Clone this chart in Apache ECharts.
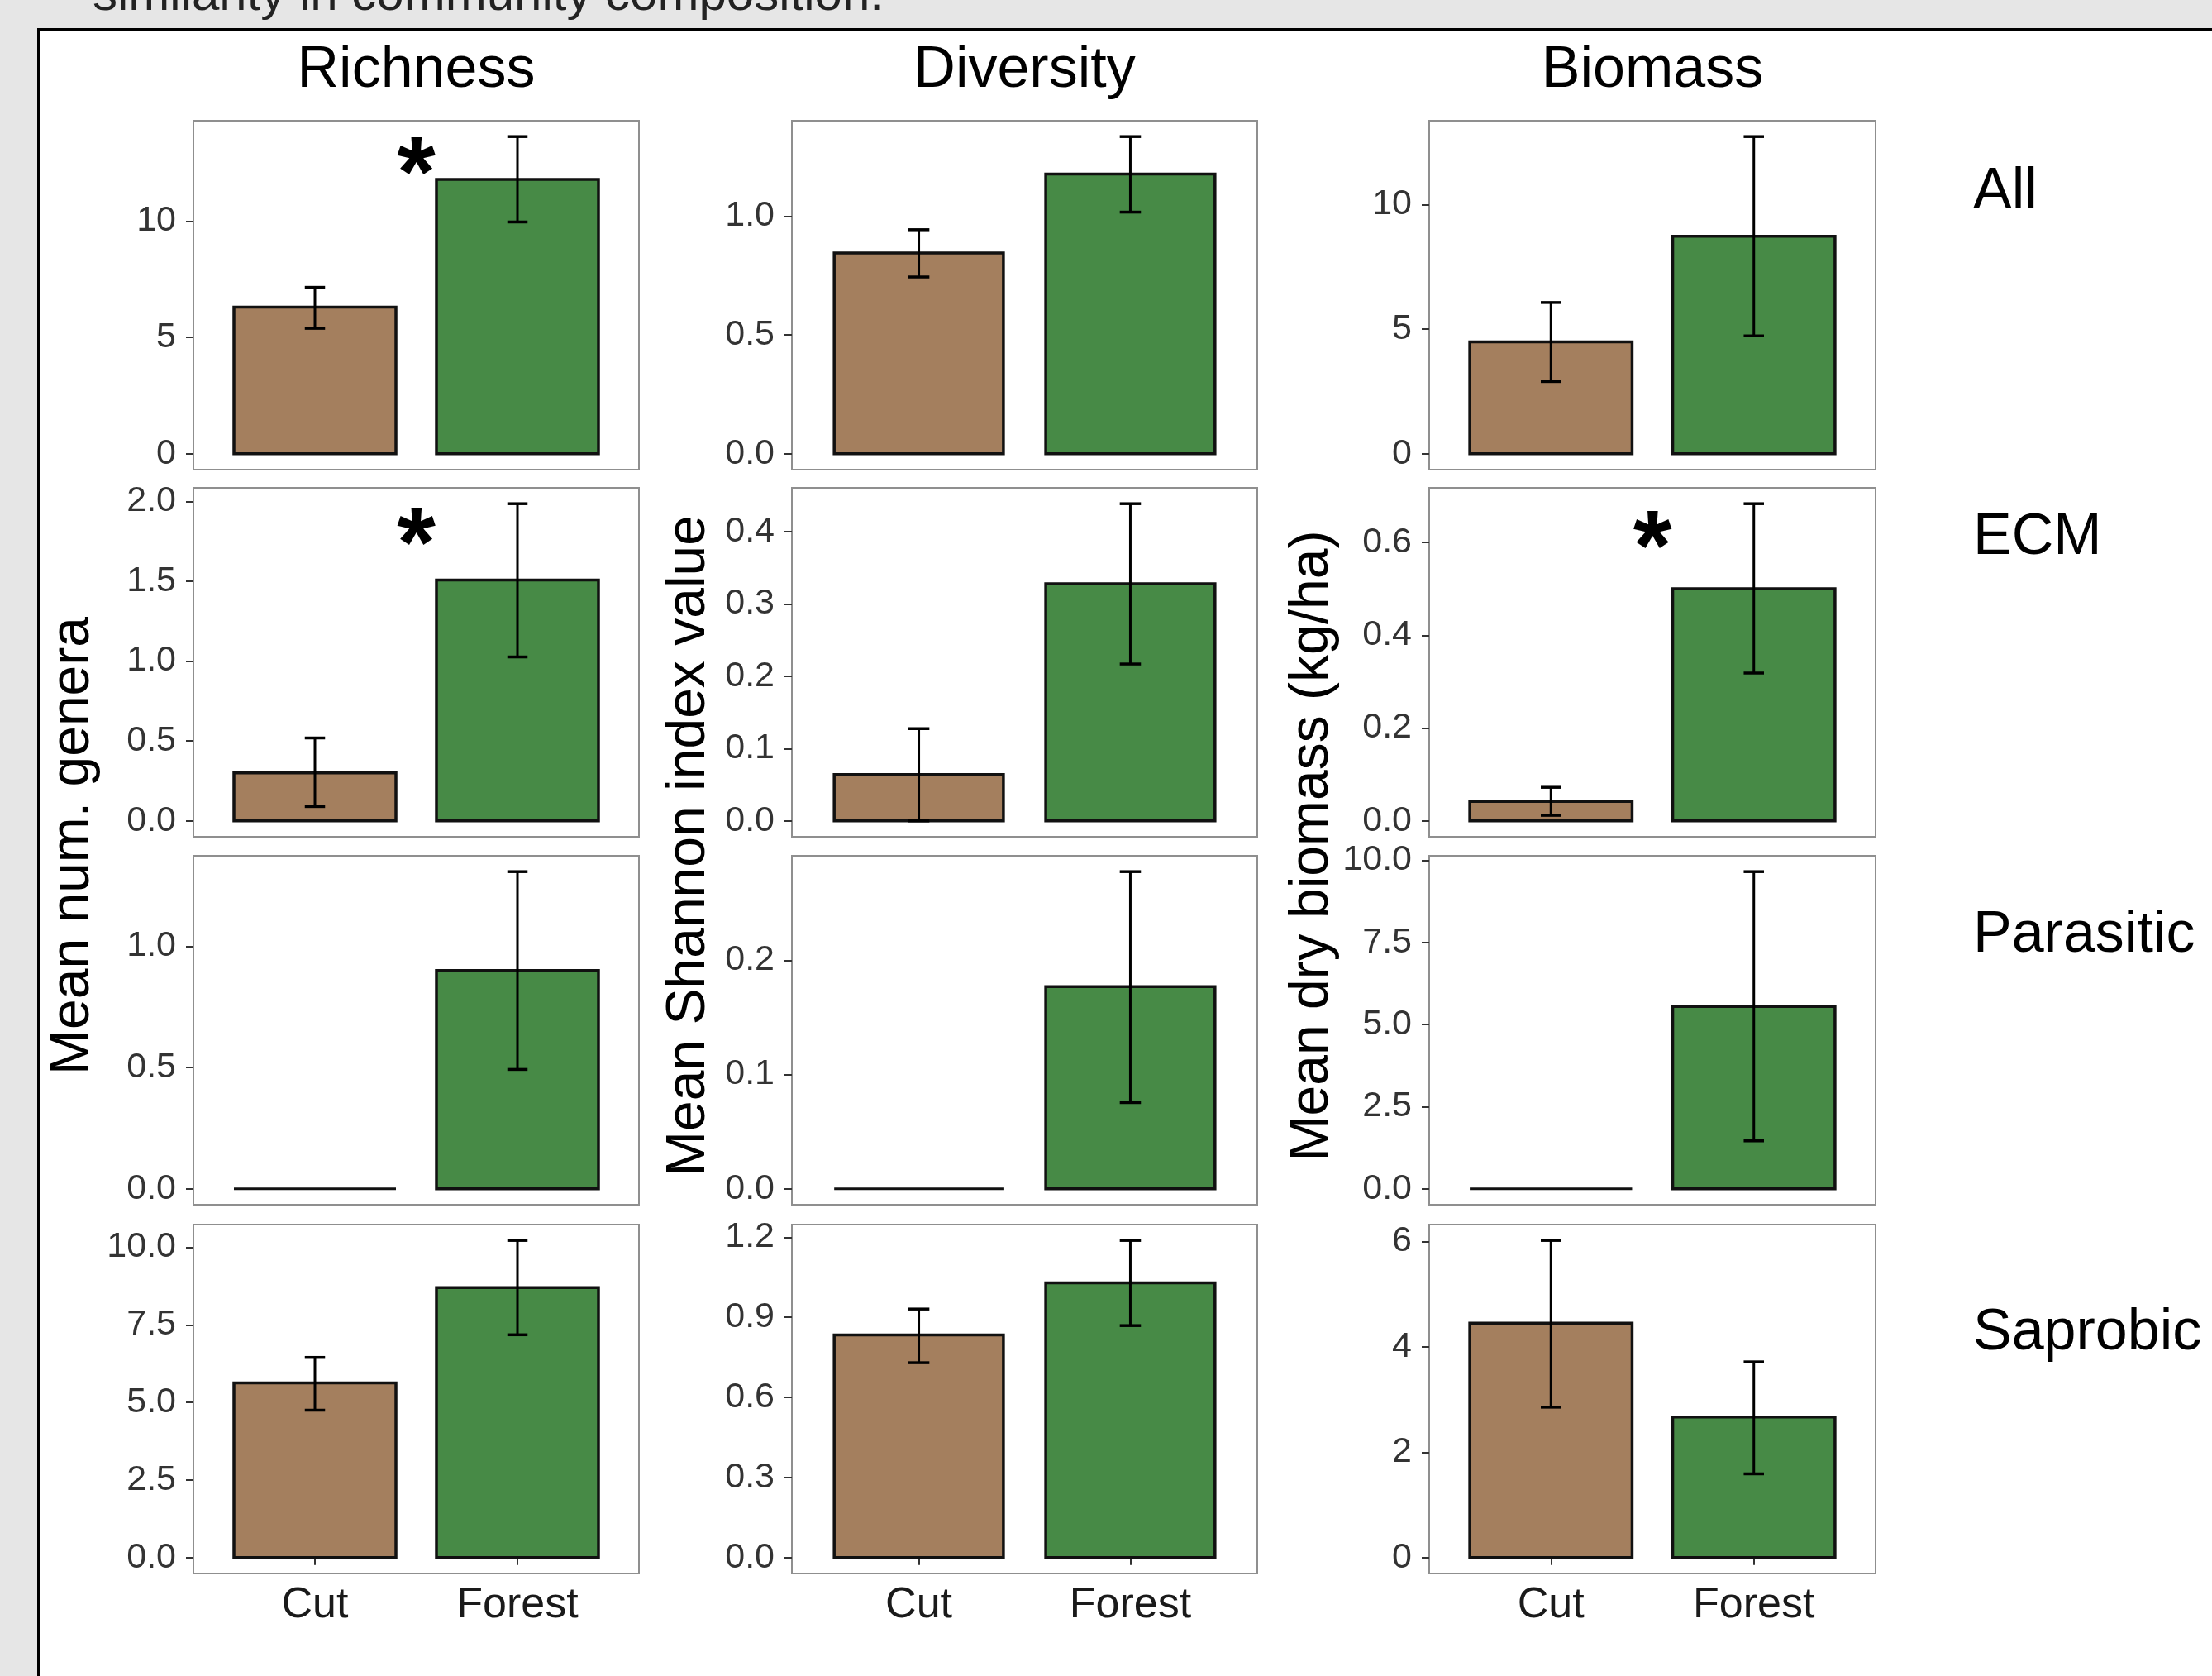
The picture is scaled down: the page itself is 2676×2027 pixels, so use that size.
<!DOCTYPE html>
<html><head><meta charset="utf-8">
<script src="https://cdn.jsdelivr.net/npm/echarts@6/dist/echarts.min.js"></script>
<style>
html,body{margin:0;padding:0;background:#e6e6e6;width:2676px;height:2027px;overflow:hidden;}
#box{position:absolute;left:45px;top:34px;width:2700px;height:2100px;background:#fff;border:3px solid #000;box-sizing:border-box;}
#chart{position:absolute;left:0;top:0;width:2676px;height:2027px;}
</style></head><body>
<div id="box"></div><div id="chart"></div>
<script>
// ---- data ----
const categories = ['Cut', 'Forest'];
const groups = ['All', 'ECM', 'Parasitic', 'Saprobic'];
const metrics = ['Richness', 'Diversity', 'Biomass'];
const yTitles = ['Mean num. genera', 'Mean Shannon index value', 'Mean dry biomass (kg/ha)'];

// [Cut, Forest] for each group (All, ECM, Parasitic, Saprobic)
const richnessMean = [[6.30, 11.79], [0.300, 1.507], [0, 0.900], [5.63, 8.70]];
const richnessLow  = [[5.39, 9.96], [0.090, 1.026], [0, 0.492], [4.75, 7.18]];
const richnessHigh = [[7.15, 13.63], [0.519, 1.985], [0, 1.307], [6.45, 10.22]];

const diversityMean = [[0.845, 1.177], [0.064, 0.328], [0, 0.177], [0.834, 1.029]];
const diversityLow  = [[0.744, 1.017], [0.000, 0.217], [0, 0.0755], [0.730, 0.869]];
const diversityHigh = [[0.943, 1.335], [0.1276, 0.4387], [0, 0.2776], [0.931, 1.188]];

const biomassMean = [[4.49, 8.73], [0.042, 0.5005], [0, 5.55], [4.45, 2.67]];
const biomassLow  = [[2.90, 4.73], [0.012, 0.3186], [0, 1.46], [2.855, 1.59]];
const biomassHigh = [[6.07, 12.73], [0.0724, 0.6835], [0, 9.65], [6.02, 3.715]];

// tick labels per group
const richnessTicks  = [['0', '5', '10'], ['0.0', '0.5', '1.0', '1.5', '2.0'], ['0.0', '0.5', '1.0'], ['0.0', '2.5', '5.0', '7.5', '10.0']];
const diversityTicks = [['0.0', '0.5', '1.0'], ['0.0', '0.1', '0.2', '0.3', '0.4'], ['0.0', '0.1', '0.2'], ['0.0', '0.3', '0.6', '0.9', '1.2']];
const biomassTicks   = [['0', '5', '10'], ['0.0', '0.2', '0.4', '0.6'], ['0.0', '2.5', '5.0', '7.5', '10.0'], ['0', '2', '4', '6']];

// significance asterisk heights (null = none)
const richnessStar  = [12.78, 1.838, null, null];
const diversityStar = [null, null, null, null];
const biomassStar   = [null, 0.626, null, null];

// ---- styles / layout ----
const barColors = ['#a47f5e', '#478a46'];
const FONT = "'Liberation Sans', Arial, Helvetica, sans-serif";
const colLeft = [234, 958, 1729];
const colWidth = [539, 563, 540];
const rowTop = [146, 590, 1035, 1481];
const rowH = 422;
const panels = [
  {mean: richnessMean, low: richnessLow, high: richnessHigh, ticks: richnessTicks, star: richnessStar},
  {mean: diversityMean, low: diversityLow, high: diversityHigh, ticks: diversityTicks, star: diversityStar},
  {mean: biomassMean, low: biomassLow, high: biomassHigh, ticks: biomassTicks, star: biomassStar}
];

function renderBars(params, api) {
  const x = api.value(0), mean = api.value(1), low = api.value(2), high = api.value(3), k = api.value(4);
  const pL = api.coord([x - 0.4, 0]);
  const pR = api.coord([x + 0.4, mean]);
  const children = [];
  if (Math.abs(pL[1] - pR[1]) < 0.5) {
    children.push({type: 'line', shape: {x1: pL[0], y1: pL[1], x2: pR[0], y2: pL[1]}, style: {stroke: '#111', lineWidth: 3}});
  } else {
    children.push({type: 'rect', shape: {x: pL[0], y: pR[1], width: pR[0] - pL[0], height: pL[1] - pR[1]},
      style: {fill: barColors[k], stroke: '#111', lineWidth: 3.5}});
  }
  if (high > low) {
    const t = api.coord([x, high]), b = api.coord([x, low]);
    const cl = api.coord([x - 0.05, high])[0], cr = api.coord([x + 0.05, high])[0];
    const st = {stroke: '#000', lineWidth: 3};
    children.push({type: 'line', shape: {x1: t[0], y1: t[1], x2: b[0], y2: b[1]}, style: st});
    children.push({type: 'line', shape: {x1: cl, y1: t[1], x2: cr, y2: t[1]}, style: {stroke: '#000', lineWidth: 3.5}});
    children.push({type: 'line', shape: {x1: cl, y1: b[1], x2: cr, y2: b[1]}, style: {stroke: '#000', lineWidth: 3.5}});
  }
  return {type: 'group', children};
}

const STAR_FS = 120;
function renderStar(params, api) {
  const p = api.coord([api.value(0), api.value(1)]);
  return {type: 'text', x: p[0], y: p[1] + 0.22 * STAR_FS,
    style: {text: '*', fontSize: STAR_FS, fontWeight: 'bold', fontFamily: FONT, fill: '#000',
      align: 'center', verticalAlign: 'middle', textAlign: 'center', textVerticalAlign: 'middle'}};
}

const grids = [], xAxes = [], yAxes = [], series = [];
for (let c = 0; c < 3; c++) {
  for (let r = 0; r < 4; r++) {
    const idx = grids.length;
    const P = panels[c];
    const m = P.mean[r], lo = P.low[r], hi = P.high[r];
    const dMin = Math.min(0, ...lo, ...m);
    const dMax = Math.max(0, ...hi, ...m);
    const pad = 0.05 * (dMax - dMin);
    const tickLabels = P.ticks[r];
    const tickVals = tickLabels.map(parseFloat);
    grids.push({left: colLeft[c], top: rowTop[r], width: colWidth[c], height: rowH, show: true,
      backgroundColor: '#fff', borderColor: '#8f8f8f', borderWidth: 2, containLabel: false, outerBoundsMode: 'none'});
    xAxes.push({gridIndex: idx, type: 'value', min: 0.4, max: 2.6,
      axisLine: {show: false}, splitLine: {show: false},
      axisTick: {show: r === 3, customValues: [1, 2], length: 9, lineStyle: {color: '#333', width: 2}},
      axisLabel: {show: r === 3, customValues: [1, 2], formatter: v => categories[Math.round(v) - 1],
        fontSize: 52, color: '#1a1a1a', margin: 13, fontFamily: FONT}});
    yAxes.push({gridIndex: idx, type: 'value', min: dMin - pad, max: dMax + pad,
      axisLine: {show: false}, splitLine: {show: false},
      axisTick: {show: true, customValues: tickVals, length: 9, lineStyle: {color: '#333', width: 2}},
      axisLabel: {customValues: tickVals, fontSize: 43, color: '#333', margin: 21, fontFamily: FONT,
        formatter: v => { const i = tickVals.findIndex(t => Math.abs(t - v) < 1e-9); return i >= 0 ? tickLabels[i] : ''; }}});
    series.push({type: 'custom', xAxisIndex: idx, yAxisIndex: idx, renderItem: renderBars, clip: false, silent: true,
      data: categories.map((cat, k) => [k + 1, m[k], lo[k], hi[k], k])});
    if (P.star[r] !== null) {
      series.push({type: 'custom', xAxisIndex: idx, yAxisIndex: idx, renderItem: renderStar, clip: false, silent: true,
        data: [[1.5, P.star[r]]]});
    }
  }
}

const graphics = [];
graphics.push({type: 'text', x: 112, y: -5, style: {text: 'similarity in community composition.', fontSize: 60,
  fontFamily: FONT, fill: '#222', textVerticalAlign: 'middle', verticalAlign: 'middle'}});
metrics.forEach((t, c) => graphics.push({type: 'text', x: colLeft[c] + colWidth[c] / 2, y: 86,
  style: {text: t, fontSize: 70, fontFamily: FONT, fill: '#000', align: 'center', textAlign: 'center',
    verticalAlign: 'middle', textVerticalAlign: 'middle'}}));
const rowLabelY = [233, 651, 1132, 1613];
groups.forEach((g, r) => graphics.push({type: 'text', x: 2387, y: rowLabelY[r],
  style: {text: g, fontSize: 70, fontFamily: FONT, fill: '#000', align: 'left', textAlign: 'left',
    verticalAlign: 'middle', textVerticalAlign: 'middle'}}));
const yTitleX = [89, 834, 1588];
yTitles.forEach((t, c) => graphics.push({type: 'text', x: yTitleX[c], y: 1023, rotation: Math.PI / 2,
  style: {text: t, fontSize: 66, fontFamily: FONT, fill: '#000', align: 'center', textAlign: 'center',
    verticalAlign: 'middle', textVerticalAlign: 'middle'}}));

const chart = echarts.init(document.getElementById('chart'), null, {renderer: 'canvas'});
chart.setOption({
  animation: false,
  grid: grids, xAxis: xAxes, yAxis: yAxes, series: series,
  graphic: graphics
});
</script></body></html>
